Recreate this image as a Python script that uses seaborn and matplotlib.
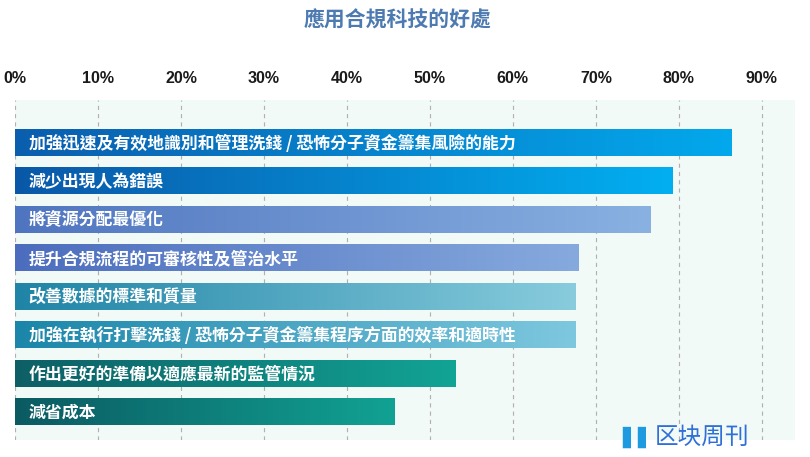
import numpy as np
import pandas as pd
import matplotlib
matplotlib.use("Agg")
import matplotlib.pyplot as plt
import seaborn as sns
from matplotlib.colors import LinearSegmentedColormap

categories = [
    "加強迅速及有效地識別和管理洗錢 / 恐怖分子資金籌集風險的能力",
    "減少出現人為錯誤",
    "將資源分配最優化",
    "提升合規流程的可審核性及管治水平",
    "改善數據的標準和質量",
    "加強在執行打擊洗錢 / 恐怖分子資金籌集程序方面的效率和適時性",
    "作出更好的準備以適應最新的監管情況",
    "減省成本",
]
values = [86.3, 79.2, 76.6, 67.9, 67.6, 67.6, 53.1, 45.7]
tick_values = [0, 10, 20, 30, 40, 50, 60, 70, 80, 90]
tick_labels = ["0%", "10%", "20%", "30%", "40%", "50%", "60%", "70%", "80%", "90%"]
title = "應用合規科技的好處"
left_colors = ["#0b5eae", "#0a58a8", "#5075c0", "#4c6dbd", "#1f84a6", "#1b86a9", "#0d5f65", "#0b5a62"]
right_colors = ["#03a8ec", "#02aff1", "#89b1e1", "#86aade", "#88ccdd", "#7ec8df", "#12a495", "#11a293"]

sns.set_theme(style="white")
plt.rcParams["font.family"] = ["Noto Sans CJK TC", "DejaVu Sans"]

df = pd.DataFrame({"cat": categories, "val": values})

fig = plt.figure(figsize=(8.1, 4.57), dpi=100)
fig.patch.set_facecolor("white")
W, H = 810, 457
left, right = 15, 795
top, bottom = 100, 440
ax = fig.add_axes([left / W, 1 - bottom / H, (right - left) / W, (bottom - top) / H])
ax.set_facecolor("#f2faf7")

sns.barplot(data=df, x="val", y="cat", orient="h", ax=ax, width=0.7,
            color="#1a8fd0", saturation=1, edgecolor="none", zorder=2)

xmax = 94
ax.set_xlim(0, xmax)
ax.set_ylim(7.74, -1.1)

# gradient fill for each bar
for i, patch in enumerate(ax.patches):
    x0, y0 = patch.get_x(), patch.get_y()
    w, h = patch.get_width(), patch.get_height()
    cmap = LinearSegmentedColormap.from_list(f"g{i}", [left_colors[i], right_colors[i]])
    grad = np.linspace(0, 1, 256).reshape(1, -1)
    im = ax.imshow(grad, cmap=cmap, aspect="auto", extent=[x0, x0 + w, y0 + h, y0],
                   zorder=3, interpolation="bicubic")
    im.set_clip_path(patch)
ax.set_xlim(0, xmax)
ax.set_ylim(7.74, -1.1)

for i, cat in enumerate(categories):
    ax.text(1.65, i + 0.03, cat, color="white", fontsize=12.2, fontweight="bold",
            va="center", ha="left", zorder=5)

for t in tick_values:
    ax.axvline(t, color="#b0b0b0", lw=0.85, ls=(0, (3.5, 3.5)), zorder=1)

ax.xaxis.tick_top()
ax.set_xticks(tick_values)
ax.set_xticklabels(tick_labels, fontsize=11.5, fontweight="bold", color="#1a1a1a",
                   family=["Liberation Sans", "DejaVu Sans"])
ax.tick_params(axis="x", length=0, pad=10)
ax.set_yticks([])
ax.set_xlabel("")
ax.set_ylabel("")
for s in ax.spines.values():
    s.set_visible(False)

fig.text(398 / W, 1 - 20 / H, title, ha="center", va="center", fontsize=15,
         fontweight="bold", color="#4d7ab0")

# watermark
fig.text(622 / W, 1 - 437 / H, "▌▌", ha="left", va="center", fontsize=15,
         color="#1e9be0", family=["DejaVu Sans"])
fig.text(655 / W, 1 - 437 / H, "区块周刊", ha="left", va="center", fontsize=17,
         color="#2f6fd8", family=["Noto Sans CJK SC", "DejaVu Sans"])

fig.savefig("out.png", dpi=100, facecolor="white")
